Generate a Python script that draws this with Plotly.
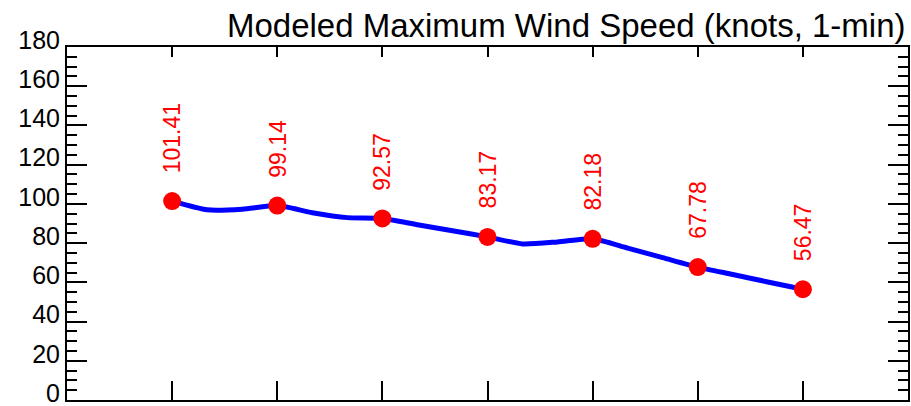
import plotly.graph_objects as go

# Marker data (labelled points)
point_x = [0, 1, 2, 3, 4, 5, 6]
point_y = [101.41, 99.14, 92.57, 83.17, 82.18, 67.78, 56.47]
point_labels = ["101.41", "99.14", "92.57", "83.17", "82.18", "67.78", "56.47"]

# Denser line data (intermediate values)
line_x = [0, 1/3, 2/3, 1, 4/3, 5/3, 2, 7/3, 8/3, 3, 10/3, 11/3, 4, 13/3, 14/3, 5, 16/3, 17/3, 6]
line_y = [101.41, 97.0, 97.3, 99.14, 95.5, 93.0, 92.57, 89.4, 86.3, 83.17, 79.6, 80.6, 82.18,
          77.4, 72.6, 67.78, 64.0, 60.2, 56.47]

title_text = "Modeled Maximum Wind Speed (knots, 1-min)"
y_ticks = [0, 20, 40, 60, 80, 100, 120, 140, 160, 180]

FONT = "Liberation Sans, Arial, sans-serif"

fig = go.Figure()
fig.add_trace(go.Scatter(x=line_x, y=line_y, mode="lines",
                         line=dict(color="#0000ff", width=5, shape="spline", smoothing=0.6),
                         hoverinfo="skip"))
fig.add_trace(go.Scatter(x=point_x, y=point_y, mode="markers",
                         marker=dict(color="#ff0000", size=18)))
fig.add_trace(go.Scatter(x=point_x, y=point_y, mode="markers", xaxis="x2", yaxis="y2",
                         marker=dict(opacity=0), hoverinfo="skip"))

for xv, yv, lab in zip(point_x, point_y, point_labels):
    fig.add_annotation(x=xv, y=yv, text=lab, textangle=-90, showarrow=False,
                       yanchor="bottom", xanchor="center", yshift=26,
                       font=dict(color="#ff0000", size=23, family=FONT))

tick_common = dict(tickwidth=1.5, tickcolor="black", showgrid=False, zeroline=False,
                   automargin=False)

fig.update_layout(
    template="none",
    width=911, height=406,
    margin=dict(l=67, r=3, t=47, b=6, autoexpand=False),
    paper_bgcolor="white", plot_bgcolor="white",
    showlegend=False,
    title=dict(text=title_text, x=0.994, xanchor="right", xref="container",
               y=1 - 25/406, yanchor="middle", yref="container",
               font=dict(size=33, color="black", family=FONT)),
    xaxis=dict(range=[-1, 7], tickvals=point_x, showticklabels=False,
               ticks="inside", ticklen=19,
               showline=True, linecolor="black", linewidth=2, mirror=True,
               **tick_common),
    xaxis2=dict(range=[-1, 7], overlaying="x", side="top", anchor="y", tickvals=point_x,
                showticklabels=False, ticks="inside", ticklen=10,
                showline=False, **tick_common),
    yaxis=dict(range=[0, 180], tickvals=y_ticks, ticks="inside", ticklen=20,
               ticklabeloverflow="allow", ticklabelshift=-7,
               minor=dict(dtick=5, ticks="inside", ticklen=10, tickwidth=1.5,
                          tickcolor="black", showgrid=False),
               showline=True, linecolor="black", linewidth=2, mirror=True,
               tickfont=dict(size=25, color="black", family=FONT),
               **tick_common),
    yaxis2=dict(range=[0, 180], overlaying="y", side="right", anchor="x", tickvals=y_ticks,
                showticklabels=False, ticks="inside", ticklen=20,
                minor=dict(dtick=5, ticks="inside", ticklen=10, tickwidth=1.5,
                           tickcolor="black", showgrid=False),
                showline=False, **tick_common),
)

fig.write_html("out.html", config={"displayModeBar": False},
               post_script="document.body.style.margin='0';document.body.style.overflow='hidden';")
